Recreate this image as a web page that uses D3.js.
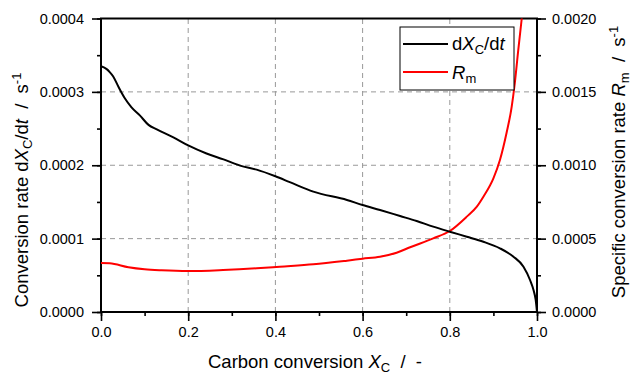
<!DOCTYPE html>
<html>
<head>
<meta charset="utf-8">
<script src="https://cdn.jsdelivr.net/npm/d3@7"></script>
<style>
body { margin: 0; background: #fff; }
svg { display: block; font-family: "Liberation Sans", Arial, sans-serif; }
</style>
</head>
<body>
<svg id="chart" width="632" height="374"></svg>
<script>
// conversion rate dXc/dt (left axis)
let rateX = [0, 0.013, 0.02, 0.028, 0.04, 0.055, 0.07, 0.089, 0.109, 0.128, 0.166, 0.2, 0.242, 0.281, 0.319, 0.357,
    0.4, 0.433, 0.487, 0.564, 0.6, 0.64, 0.686, 0.724, 0.762, 0.8, 0.839, 0.877, 0.915, 0.946, 0.969, 0.984, 0.992, 0.997, 1.0];
let rateVal = [0.000335, 0.000331, 0.000327, 0.000321, 0.000307, 0.000291, 0.000279, 0.000268, 0.000255, 0.000249,
    0.000238, 0.000227, 0.000216, 0.000208, 0.0001995, 0.000194, 0.000185, 0.000177, 0.000164, 0.0001527, 0.0001458,
    0.000139, 0.0001308, 0.000124, 0.0001163, 0.0001094, 0.0001026, 0.0000958, 0.0000868, 0.0000754, 0.0000617,
    0.0000436, 0.00003, 0.0000164, 0];
// specific conversion rate Rm (right axis)
let rmX = [0, 0.02, 0.063, 0.1, 0.139, 0.2, 0.28, 0.357, 0.41, 0.487, 0.564, 0.6, 0.64, 0.678, 0.709, 0.762, 0.8,
    0.839, 0.862, 0.877, 0.9, 0.915, 0.93, 0.942, 0.949, 0.957, 0.965, 0.97];
let rmVal = [0.000334, 0.000332, 0.000305, 0.000291, 0.000284, 0.000279, 0.000286, 0.000298, 0.000309, 0.000325,
    0.00035, 0.000363, 0.000377, 0.000404, 0.000441, 0.000502, 0.000552, 0.00065, 0.000718, 0.000786, 0.000911,
    0.001036, 0.001218, 0.001399, 0.001558, 0.001785, 0.002, 0.00215];

let xTicks = [0, 0.2, 0.4, 0.6, 0.8, 1.0];
let leftTicks = [0, 0.0001, 0.0002, 0.0003, 0.0004];
let rightTicks = [0, 0.0005, 0.0010, 0.0015, 0.0020];

let margin = {left: 101, right: 95, top: 18.5, bottom: 62};
let width = 632, height = 374;
let svg = d3.select("#chart");

let x = d3.scaleLinear().domain([0, 1]).range([margin.left, width - margin.right]);
let yL = d3.scaleLinear().domain([0, 0.0004]).range([height - margin.bottom, margin.top]);
let yR = d3.scaleLinear().domain([0, 0.002]).range([height - margin.bottom, margin.top]);

svg.append("defs").append("clipPath").attr("id", "plotClip")
    .append("rect")
    .attr("x", x(0)).attr("y", yL(0.0004))
    .attr("width", x(1) - x(0)).attr("height", yL(0) - yL(0.0004));

// grid
let grid = svg.append("g").attr("stroke", "#999").attr("stroke-width", 1).attr("stroke-dasharray", "5,4");
grid.selectAll(".gx").data(xTicks.slice(1, -1)).enter().append("line")
    .attr("x1", d => x(d)).attr("x2", d => x(d))
    .attr("y1", yL(0)).attr("y2", yL(0.0004));
grid.selectAll(".gy").data(leftTicks.slice(1, -1)).enter().append("line")
    .attr("x1", x(0)).attr("x2", x(1))
    .attr("y1", d => yL(d)).attr("y2", d => yL(d));

// axes
function styleAxis(g) {
    g.select(".domain").remove();
    g.selectAll(".tick line").attr("stroke", "#000").attr("stroke-width", 1.6);
    g.selectAll(".tick text").attr("fill", "#000").attr("font-size", "14.5px")
        .attr("font-family", "'Liberation Sans', Arial, sans-serif");
}

svg.append("g").attr("transform", `translate(0,${yL(0)})`)
    .call(d3.axisBottom(x).tickValues(d3.range(0, 1.01, 0.1)).tickSize(4).tickFormat(""))
    .call(styleAxis);
svg.append("g").attr("transform", `translate(0,${yL(0)})`)
    .call(d3.axisBottom(x).tickValues(xTicks).tickSize(9).tickPadding(6).tickFormat(d3.format(".1f")))
    .call(styleAxis);

svg.append("g").attr("transform", `translate(${x(0)},0)`)
    .call(d3.axisLeft(yL).tickValues(d3.range(0, 0.00041, 0.00005)).tickSize(4).tickFormat(""))
    .call(styleAxis);
svg.append("g").attr("transform", `translate(${x(0)},0)`)
    .call(d3.axisLeft(yL).tickValues(leftTicks).tickSize(9).tickPadding(8).tickFormat(d3.format(".4f")))
    .call(styleAxis);

svg.append("g").attr("transform", `translate(${x(1)},0)`)
    .call(d3.axisRight(yR).tickValues(d3.range(0, 0.00201, 0.00025)).tickSize(4).tickFormat(""))
    .call(styleAxis);
svg.append("g").attr("transform", `translate(${x(1)},0)`)
    .call(d3.axisRight(yR).tickValues(rightTicks).tickSize(9).tickPadding(6).tickFormat(d3.format(".4f")))
    .call(styleAxis);

// frame
svg.append("rect")
    .attr("x", x(0)).attr("y", yL(0.0004))
    .attr("width", x(1) - x(0)).attr("height", yL(0) - yL(0.0004))
    .attr("fill", "none").attr("stroke", "#000").attr("stroke-width", 2);

// curves
let rateLine = d3.line().curve(d3.curveMonotoneX).x(i => x(rateX[i])).y(i => yL(rateVal[i]));
let rmLine = d3.line().curve(d3.curveMonotoneX).x(i => x(rmX[i])).y(i => yR(rmVal[i]));

let plot = svg.append("g").attr("clip-path", "url(#plotClip)");
plot.append("path").attr("d", rmLine(d3.range(rmX.length)))
    .attr("fill", "none").attr("stroke", "#ff0000").attr("stroke-width", 2).attr("stroke-linejoin", "round");
plot.append("path").attr("d", rateLine(d3.range(rateX.length)))
    .attr("fill", "none").attr("stroke", "#000").attr("stroke-width", 2).attr("stroke-linejoin", "round");

// legend
let legend = svg.append("g").attr("transform", "translate(400,27)");
legend.append("rect").attr("width", 114).attr("height", 63)
    .attr("fill", "#fff").attr("stroke", "#000").attr("stroke-width", 1);
let legendItems = [{color: "#000", y: 17}, {color: "#ff0000", y: 45}];
legend.selectAll(".ll").data(legendItems).enter().append("line")
    .attr("x1", 3).attr("x2", 48)
    .attr("y1", d => d.y).attr("y2", d => d.y)
    .attr("stroke", d => d.color).attr("stroke-width", 2);

let lt1 = legend.append("text").attr("x", 52).attr("y", 23).attr("font-size", "18.5px");
lt1.append("tspan").text("d");
lt1.append("tspan").attr("font-style", "italic").text("X");
lt1.append("tspan").attr("font-size", "13px").attr("dy", 4).text("C");
lt1.append("tspan").attr("dy", -4).text("/d");
lt1.append("tspan").attr("font-style", "italic").text("t");

let lt2 = legend.append("text").attr("x", 52).attr("y", 52).attr("font-size", "18.5px");
lt2.append("tspan").attr("font-style", "italic").text("R");
lt2.append("tspan").attr("font-size", "13px").attr("dy", 4).text("m");

// axis titles
let xt = svg.append("text").attr("x", 315).attr("y", 368).attr("text-anchor", "middle").attr("font-size", "18.5px");
xt.append("tspan").text("Carbon conversion ");
xt.append("tspan").attr("font-style", "italic").text("X");
xt.append("tspan").attr("font-size", "13px").attr("dy", 4).text("C");
xt.append("tspan").attr("dy", -4).attr("xml:space", "preserve").text("  /  -");

let ylt = svg.append("text").attr("transform", "translate(28,190) rotate(-90)")
    .attr("text-anchor", "middle").attr("font-size", "18.5px");
ylt.append("tspan").text("Conversion rate d");
ylt.append("tspan").attr("font-style", "italic").text("X");
ylt.append("tspan").attr("font-size", "13px").attr("dy", 4).text("C");
ylt.append("tspan").attr("dy", -4).text("/d");
ylt.append("tspan").attr("font-style", "italic").text("t");
ylt.append("tspan").attr("xml:space", "preserve").text("  /  s");
ylt.append("tspan").attr("font-size", "13px").attr("dy", -7).text("-1");

let yrt = svg.append("text").attr("transform", "translate(625,162) rotate(-90)")
    .attr("text-anchor", "middle").attr("font-size", "18.5px");
yrt.append("tspan").text("Specific conversion rate ");
yrt.append("tspan").attr("font-style", "italic").text("R");
yrt.append("tspan").attr("font-size", "13px").attr("dy", 4).text("m");
yrt.append("tspan").attr("dy", -4).attr("xml:space", "preserve").text("  /  s");
yrt.append("tspan").attr("font-size", "13px").attr("dy", -7).text("-1");
</script>
</body>
</html>
